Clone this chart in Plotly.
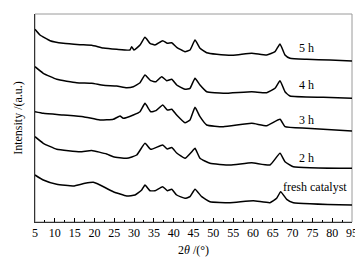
import plotly.graph_objects as go

# 2theta (deg) and intensity (a.u.)
x_5h = [5.0, 6.26, 8.79, 12.14, 16.36, 19.31, 22.24, 25.62, 28.97, 29.4, 29.98, 31.5, 32.76, 34.02, 35.28,
        37.23, 38.39, 39.5, 40.76, 42.85, 44.12, 45.38, 46.64, 48.33, 50.86, 55.04, 59.69, 63.47, 65.57,
        66.83, 68.09, 69.35, 73.57, 79.45, 85.0]
y_5h = [192.7, 187, 181.3, 178.7, 177.3, 176.7, 174, 172.7, 172, 175.3, 172, 177, 184.7, 178.7, 177,
        181.3, 178.7, 179.3, 174.7, 170.3, 172, 182, 173.7, 169.3, 167.7, 166.7, 168.7, 167, 170.3,
        178, 167, 163.7, 162.7, 162, 161]

x_4h = [5.0, 7.09, 10.48, 15.52, 19.31, 22.24, 25.62, 28.14, 29.81, 31.5, 32.76, 34.2, 35.54, 36.97,
        38.24, 39.5, 40.76, 42.85, 44.12, 45.38, 46.64, 48.33, 52.52, 59.69, 63.47, 65.57, 66.83, 68.09,
        69.35, 77.76, 85.0]
y_4h = [155.3, 148.7, 142.7, 139.3, 138.7, 136.7, 136, 134.3, 135.3, 139.3, 147, 141.3, 140.3, 145.3,
        141.3, 142.7, 137, 132.7, 133.7, 143.7, 137, 130.3, 128.7, 130.3, 129.3, 133.7, 141.3, 130.3,
        126, 124.7, 123.7]

x_3h = [5.0, 7.09, 12.14, 17.19, 21.4, 24.76, 26.45, 27.28, 29.81, 31.5, 32.76, 34.2, 35.54, 37.23,
        38.39, 39.5, 40.76, 42.85, 44.12, 45.38, 46.64, 48.33, 52.52, 59.69, 63.47, 66.83, 68.09, 73.57,
        85.0]
y_3h = [110.3, 108.7, 107, 105.3, 102, 102.7, 106, 103.7, 107, 110.3, 118.7, 110.3, 111.3, 117,
        112, 112.7, 107, 99.3, 102, 114.7, 105.3, 97, 95.3, 98.7, 96.3, 102.7, 95.3, 93.7,
        91]

x_2h = [5.0, 7.09, 10.48, 16.36, 19.31, 23.09, 24.76, 28.14, 30.67, 32.76, 34.2, 37.23, 38.39, 39.5,
        40.76, 42.85, 44.95, 45.38, 46.64, 49.16, 54.21, 59.69, 64.3, 66.83, 68.09, 70.19, 85.0]
y_2h = [85.3, 78.7, 72.7, 70.3, 71.5, 68, 65.3, 63.7, 67, 78.7, 72.7, 77, 73, 74.5,
        69, 63.7, 72, 73.7, 63.7, 58.7, 57, 59.3, 57, 68.7, 60.3, 55.3, 53.7]

x_fresh = [5.0, 7.09, 10.48, 14.67, 17.62, 19.71, 21.4, 24.76, 28.14, 30.24, 31.93, 32.76, 34.02, 35.28,
           37.23, 38.39, 39.5, 40.76, 42.85, 44.12, 45.38, 47.07, 49.16, 54.21, 60.09, 64.3, 65.99,
           67.0, 68.52, 70.19, 85.0]
y_fresh = [47, 42, 37.7, 36, 38.7, 39.7, 37, 30.3, 26, 27, 32, 37, 31.3, 31.3,
           35.3, 31.3, 32.7, 27, 23.7, 25.3, 32.7, 25.3, 20.3, 19.3, 21.3, 19.3, 23.7,
           30.3, 22.7, 19.3, 17]

series_names = ["5 h", "4 h", "3 h", "2 h", "fresh catalyst"]
tick_vals = [5, 10, 15, 20, 25, 30, 35, 40, 45, 50, 55, 60, 65, 70, 75, 80, 85]
tick_text = ["5", "10", "15", "20", "25", "30", "35", "40", "45", "50", "55", "60", "65", "70", "75", "80", "95"]

label_x = [73.6, 73.6, 73.6, 73.6, 75.7]
label_y = [173.7, 137, 102, 63.7, 35.3]

FONT = "Liberation Serif, Times New Roman, serif"

fig = go.Figure()
for xs, ys, name in zip([x_5h, x_4h, x_3h, x_2h, x_fresh],
                        [y_5h, y_4h, y_3h, y_2h, y_fresh], series_names):
    fig.add_trace(go.Scatter(x=xs, y=ys, mode="lines", name=name,
                             line=dict(color="black", width=1.5, shape="spline", smoothing=0.4),
                             showlegend=False))

for name, lx, ly in zip(series_names, label_x, label_y):
    fig.add_annotation(x=lx, y=ly, text=name, showarrow=False,
                       font=dict(family=FONT, size=12, color="black"))

fig.add_shape(type="rect", xref="paper", yref="paper", x0=0, y0=0, x1=1, y1=1,
              line=dict(color="#9a9a9a", width=1), layer="below")

fig.update_xaxes(range=[5, 85], tickvals=tick_vals, ticktext=tick_text,
                 ticks="inside", ticklen=4, tickcolor="black", tickwidth=1,
                 minor=dict(dtick=2.5, tick0=5, ticks="inside", ticklen=2, tickcolor="black"),
                 showline=True, linecolor="#333", linewidth=1, showgrid=False, zeroline=False,
                 tickfont=dict(family=FONT, size=12, color="black"),
                 title=dict(text="2<i>θ</i> /(°)", font=dict(family=FONT, size=12, color="black"),
                            standoff=6))
fig.update_yaxes(range=[0, 208], showticklabels=False, ticks="", showgrid=False, zeroline=False,
                 showline=True, linecolor="#333", linewidth=1,
                 title=dict(text="Intensity /(a.u.)", font=dict(family=FONT, size=12, color="black"),
                            standoff=8))

# page body has an 8 px margin, so the figure is shifted by 8 px on both axes
fig.update_layout(width=355, height=255, margin=dict(l=27, r=11, t=6, b=41),
                  plot_bgcolor="white", paper_bgcolor="white")

fig.write_html("out.html")
